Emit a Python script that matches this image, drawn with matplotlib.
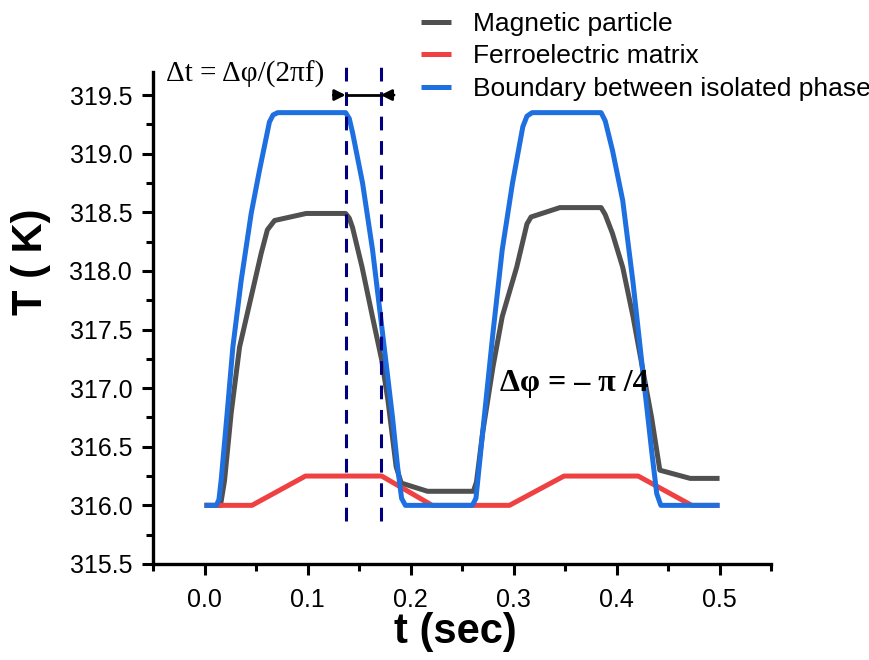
"""
Temperature vs time for magnetic particle, ferroelectric matrix and boundary.
"""

import numpy as np
import matplotlib
matplotlib.use("Agg")
import matplotlib.pyplot as plt
from matplotlib.ticker import MultipleLocator, FormatStrFormatter

# ---- data ---------------------------------------------------------
t_mag = [0.0, 0.0155, 0.0194, 0.0259, 0.034, 0.0453, 0.055, 0.061, 0.068,
         0.0987, 0.137, 0.1405, 0.1437, 0.153, 0.163, 0.172, 0.178, 0.186,
         0.191, 0.2165, 0.261, 0.264, 0.270, 0.280, 0.289, 0.303, 0.313,
         0.317, 0.345, 0.385, 0.389, 0.396, 0.406, 0.416, 0.425, 0.434,
         0.442, 0.4715, 0.5]
T_mag = [316.0, 316.0, 316.21, 316.79, 317.35, 317.78, 318.15, 318.35, 318.43,
         318.49, 318.49, 318.45, 318.37, 318.03, 317.61, 317.24, 316.90, 316.33,
         316.19, 316.12, 316.12, 316.20, 316.62, 317.18, 317.61, 318.03, 318.40,
         318.46, 318.54, 318.54, 318.48, 318.32, 318.03, 317.61, 317.18, 316.75,
         316.30, 316.23, 316.23]

t_fe = [0.0, 0.046, 0.098, 0.172, 0.221, 0.296, 0.349, 0.421, 0.473, 0.5]
T_fe = [316.0, 316.0, 316.25, 316.25, 316.0, 316.0, 316.25, 316.25, 316.0, 316.0]

t_bd = [0.0, 0.0115, 0.014, 0.0162, 0.022, 0.0275, 0.0356, 0.0453, 0.0534,
        0.063, 0.0665, 0.071, 0.137, 0.1405, 0.1437, 0.1534, 0.1631, 0.1728,
        0.1825, 0.1874, 0.1913, 0.195, 0.260, 0.2635, 0.270, 0.280, 0.289,
        0.299, 0.309, 0.313, 0.318, 0.385, 0.389, 0.396, 0.406, 0.416, 0.425,
        0.434, 0.439, 0.443, 0.5]
T_bd = [316.0, 316.0, 316.05, 316.22, 316.79, 317.35, 317.92, 318.49, 318.86,
        319.27, 319.33, 319.35, 319.35, 319.30, 319.18, 318.75, 318.18, 317.47,
        316.75, 316.33, 316.06, 316.0, 316.0, 316.06, 316.62, 317.47, 318.18,
        318.75, 319.23, 319.32, 319.35, 319.35, 319.28, 319.03, 318.60, 317.90,
        317.18, 316.47, 316.10, 316.0, 316.0]

dash_t = [0.137, 0.171]          # delay markers
arrow_T = 319.5

SERIES = [
    ("Magnetic particle", t_mag, T_mag, "#505050"),
    ("Ferroelectric matrix", t_fe, T_fe, "#ef4141"),
    ("Boundary between isolated phases", t_bd, T_bd, "#1e6fe0"),
]

plt.rcParams["font.family"] = ["Liberation Sans", "DejaVu Sans"]
SERIF = ["Liberation Serif", "DejaVu Serif"]

fig = plt.figure(figsize=(8.69, 6.6), dpi=100)
ax = fig.add_axes([0.1761, 0.1455, 0.7112, 0.746])

for name, t, T, col in SERIES:
    ax.plot(t, T, color=col, lw=3.6, label=name, solid_joinstyle="round",
            solid_capstyle="butt")

for x in dash_t:
    ax.plot([x, x], [315.87, 319.8], color="#000080", lw=2.2,
            ls=(0, (4.5, 3.5)), clip_on=False)

# dimension arrows pointing in on the dashed lines
ax.plot(dash_t, [arrow_T, arrow_T], color="black", lw=2, clip_on=False)
for x0, x1 in [(0.125, dash_t[0]), (0.184, dash_t[1])]:
    ax.annotate("", xy=(x1, arrow_T), xytext=(x0, arrow_T),
                arrowprops=dict(arrowstyle="-|>", color="black", lw=2,
                                mutation_scale=16, shrinkA=0, shrinkB=0),
                annotation_clip=False)

ax.text(-0.037, 319.68, "Δt = Δφ/(2πf)", fontsize=21, va="center",
        family=SERIF)
ax.text(0.2864, 317.04, "Δφ = – π /4", fontsize=23, va="center",
        fontweight="bold", family=SERIF)

ax.set_xlim(-0.05, 0.55)
ax.set_ylim(315.5, 319.7)
ax.set_xticks([0.0, 0.1, 0.2, 0.3, 0.4, 0.5])
ax.set_xticklabels(["0.0", "0.1", "0.2", "0.3", "0.4", "0.5"])
ax.xaxis.set_minor_locator(MultipleLocator(0.05))
ax.yaxis.set_major_locator(MultipleLocator(0.5))
ax.yaxis.set_minor_locator(MultipleLocator(0.25))
ax.yaxis.set_major_formatter(FormatStrFormatter("%.1f"))

for side in ("top", "right"):
    ax.spines[side].set_visible(False)
for side in ("left", "bottom"):
    ax.spines[side].set_linewidth(2.4)
ax.tick_params(which="major", direction="out", length=8, width=2.2,
               labelsize=18, pad=7)
ax.tick_params(axis="x", which="major", pad=9)
ax.tick_params(which="minor", direction="out", length=5, width=2.2)

ax.set_xlabel("t (sec)", fontsize=30, fontweight="bold")
ax.set_ylabel("T ( K)", fontsize=30, fontweight="bold")
ax.xaxis.set_label_coords(0.49, -0.098)
ax.yaxis.set_label_coords(-0.165, 0.614)

# legend runs past the right edge, as in the source figure
fig.legend(loc="upper left", bbox_to_anchor=(0.472, 0.998), frameon=False,
           fontsize=19, handlelength=1.14, handletextpad=0.83,
           labelspacing=0.32, borderaxespad=0)

fig.savefig("out.png", dpi=100)
